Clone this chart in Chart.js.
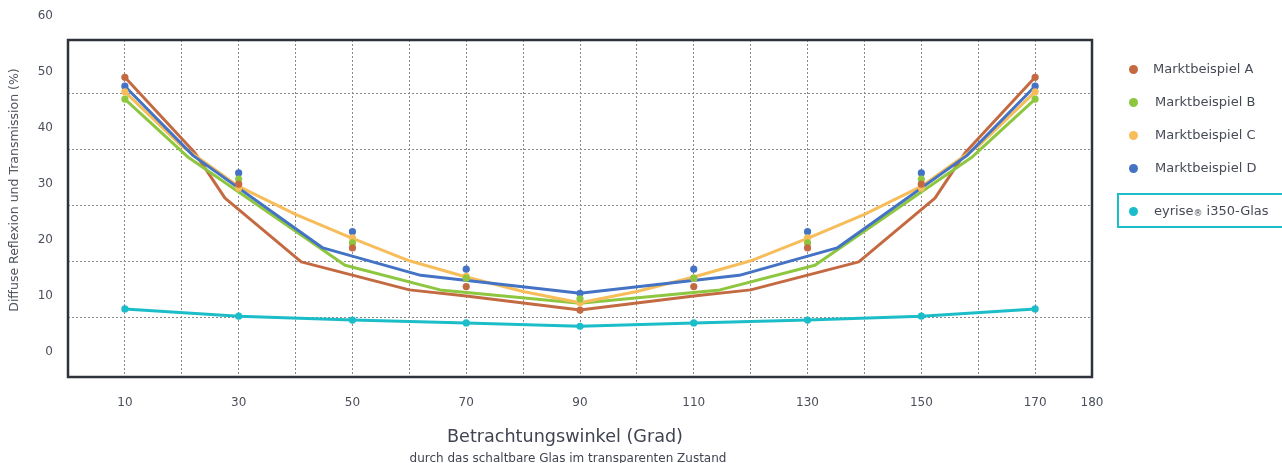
<!DOCTYPE html>
<html>
<head>
<meta charset="utf-8">
<script src="https://cdn.jsdelivr.net/npm/chart.js@4.4.0/dist/chart.umd.min.js"></script>
<style>
html,body{margin:0;padding:0;background:#fff;overflow:hidden}
#wrap{position:relative;width:1282px;height:463px;font-family:"DejaVu Sans",Verdana,sans-serif;color:#454a55}
#c{position:absolute;left:0;top:0}
.lg{position:absolute;font-size:13px;line-height:16px;color:#454a55;white-space:nowrap}
.dot{position:absolute;width:9px;height:9px;border-radius:50%}
#ebox{position:absolute;left:1117px;top:193px;width:170px;height:31px;border:2.5px solid #1bbdc9}
#ytitle{position:absolute;left:-136px;top:182px;width:300px;height:16px;line-height:16px;text-align:center;font-size:12.5px;color:#50555f;white-space:nowrap;transform:rotate(-90deg)}
#xtitle{position:absolute;left:365px;top:426px;width:400px;height:20px;line-height:20px;text-align:center;font-size:17.6px;color:#3f4450;white-space:nowrap}
#xsub{position:absolute;left:368px;top:450px;width:400px;height:16px;line-height:16px;text-align:center;font-size:12px;color:#3f4450;white-space:nowrap}
sub.r{font-size:9px;vertical-align:-1px}
</style>
</head>
<body>
<div id="wrap">
<canvas id="c" width="1282" height="463"></canvas>
<div id="ytitle">Diffuse Reflexion und Transmission (%)</div>
<div id="xtitle">Betrachtungswinkel (Grad)</div>
<div id="xsub">durch das schaltbare Glas im transparenten Zustand</div>
<div id="legend"></div>
<div id="ebox"></div>
</div>
<script>
// ---- data ----
const seriesNames = ["Marktbeispiel A", "Marktbeispiel B", "Marktbeispiel C", "Marktbeispiel D", "eyrise® i350-Glas"];
const markerAngles = [10, 30, 50, 70, 90, 110, 130, 150, 170];
const markersA = [49.1, 30.0, 18.6, 11.7, 7.5, 11.7, 18.6, 30.0, 49.1];
const markersB = [45.2, 30.9, 19.5, 13.2, 9.5, 13.2, 19.5, 30.9, 45.2];
const markersC = [46.5, 29.3, 20.4, 13.5, 8.8, 13.2, 20.4, 29.3, 46.5];
const markersD = [47.5, 32.0, 21.5, 14.8, 10.5, 14.8, 21.5, 32.0, 47.5];
const markersE = [7.7, 6.4, 5.7, 5.2, 4.6, 5.2, 5.7, 6.4, 7.7];

const lineA_x = [10, 22.3, 27.6, 41, 60, 70, 90, 110, 120, 139, 152.4, 157.7, 170];
const lineA_y = [49.1, 35.6, 27.5, 16.1, 11.1, 10.0, 7.5, 10.0, 11.1, 16.1, 27.5, 35.6, 49.1];
const lineB_x = [10, 21, 48.7, 65.4, 90, 114.6, 131.3, 159, 170];
const lineB_y = [45.2, 34.9, 15.5, 11.1, 8.7, 11.1, 15.5, 34.9, 45.2];
const lineC_x = [10, 20, 30, 40, 50, 60, 70, 80, 90, 100, 110, 120, 130, 140, 150, 160, 170];
const lineC_y = [46.5, 36.8, 29.6, 24.6, 20.3, 16.3, 13.4, 10.8, 8.8, 10.8, 13.4, 16.3, 20.3, 24.6, 29.6, 36.8, 46.5];
const lineD_x = [10, 22, 44.8, 62, 90, 118, 135.2, 158, 170];
const lineD_y = [47.5, 35.1, 18.6, 13.7, 10.5, 13.7, 18.6, 35.1, 47.5];
const lineE_x = [10, 30, 50, 70, 90, 110, 130, 150, 170];
const lineE_y = [7.7, 6.4, 5.7, 5.2, 4.6, 5.2, 5.7, 6.4, 7.7];

const xTickLabels = [10, 30, 50, 70, 90, 110, 130, 150, 170, 180];
const xGridValues = [0, 10, 20, 30, 40, 50, 60, 70, 80, 90, 100, 110, 120, 130, 140, 150, 160, 170, 180];
const yTickLabels = [0, 10, 20, 30, 40, 50, 60];
const yGridValues = [6.2, 16.2, 26.2, 36.2, 46.2];
const xRange = [0, 180];
const yRange = [-4.47, 55.76];

// ---- styles ----
const colors = ["#c46a42", "#8dc63f", "#f6bd5a", "#4472c4", "#1bbdc9"];
const fontFam = '"DejaVu Sans", Verdana, sans-serif';
const tickColor = "#4a4f5a";
const gridColor = "#8a8a8a";

const lines = [[lineA_x, lineA_y], [lineB_x, lineB_y], [lineC_x, lineC_y], [lineD_x, lineD_y], [lineE_x, lineE_y]];
const markers = [markersA, markersB, markersC, markersD, markersE];

const datasets = [];
lines.forEach((l, i) => {
  datasets.push({
    label: seriesNames[i] + " line",
    data: l[0].map((x, k) => ({x, y: l[1][k]})),
    borderColor: colors[i], backgroundColor: colors[i],
    borderWidth: 3, pointRadius: 0, tension: 0, order: 10 - i,
    borderJoinStyle: 'round', borderCapStyle: 'round'
  });
});
markers.forEach((m, i) => {
  datasets.push({
    label: seriesNames[i],
    data: markerAngles.map((x, k) => ({x, y: m[k]})),
    showLine: false, pointRadius: 3.6, pointBackgroundColor: colors[i],
    pointBorderWidth: 0, borderColor: colors[i], order: 0
  });
});

const boxPlugin = {
  id: 'box',
  afterDraw(chart) {
    const {ctx, chartArea: a} = chart;
    ctx.save();
    ctx.strokeStyle = '#2e333b';
    ctx.lineWidth = 2.5;
    ctx.strokeRect(a.left, a.top, a.right - a.left, a.bottom - a.top);
    ctx.restore();
  }
};

new Chart(document.getElementById('c'), {
  type: 'line',
  data: {datasets},
  plugins: [boxPlugin],
  options: {
    responsive: false, animation: false, devicePixelRatio: 1,
    layout: {padding: {top: 40, right: 190, left: 0, bottom: 0}},
    plugins: {legend: {display: false}, tooltip: {enabled: false}},
    scales: {
      x: {
        type: 'linear', position: 'bottom', min: xRange[0], max: xRange[1],
        afterBuildTicks: s => { s.ticks = xGridValues.map(v => ({value: v})); },
        afterFit: s => { s.height = 86; },
        ticks: {
          autoSkip: false, maxRotation: 0, padding: 19, color: tickColor,
          font: {family: fontFam, size: 12},
          callback: v => xTickLabels.includes(v) ? String(v) : ''
        },
        grid: {color: gridColor, lineWidth: 1, drawTicks: false},
        border: {display: false, dash: [2, 2]}
      },
      y: {
        type: 'linear', position: 'left', min: yRange[0], max: yRange[1],
        afterBuildTicks: s => { s.ticks = yGridValues.map(v => ({value: v})); },
        afterFit: s => { s.width = 0; },
        ticks: {display: false},
        grid: {color: gridColor, lineWidth: 1, drawTicks: false},
        border: {display: false, dash: [2, 2]}
      },
      yl: {
        type: 'linear', position: 'left', min: yRange[0], max: yRange[1],
        afterBuildTicks: s => { s.ticks = yTickLabels.map(v => ({value: v})); },
        afterFit: s => { s.width = 68; },
        ticks: {autoSkip: false, padding: 15, color: tickColor, font: {family: fontFam, size: 12}},
        grid: {display: false, drawTicks: false},
        border: {display: false}
      }
    }
  }
});

// ---- HTML legend ----
const legendPos = [
  {dotX: 1133, textX: 1153, y: 69},
  {dotX: 1133, textX: 1155, y: 102},
  {dotX: 1133, textX: 1155, y: 135},
  {dotX: 1133, textX: 1155, y: 168},
  {dotX: 1133, textX: 1154, y: 211}
];
const lg = document.getElementById('legend');
seriesNames.forEach((name, i) => {
  const p = legendPos[i];
  const d = document.createElement('div');
  d.className = 'dot';
  d.style.left = (p.dotX - 4.5) + 'px';
  d.style.top = (p.y - 4.5) + 'px';
  d.style.background = colors[i];
  lg.appendChild(d);
  const t = document.createElement('div');
  t.className = 'lg';
  t.style.left = p.textX + 'px';
  t.style.top = (p.y - 8) + 'px';
  if (name.includes('®')) {
    const parts = name.split('®');
    t.innerHTML = parts[0] + '<sub class="r">®</sub>' + parts[1];
  } else {
    t.textContent = name;
  }
  lg.appendChild(t);
});
</script>
</body>
</html>
